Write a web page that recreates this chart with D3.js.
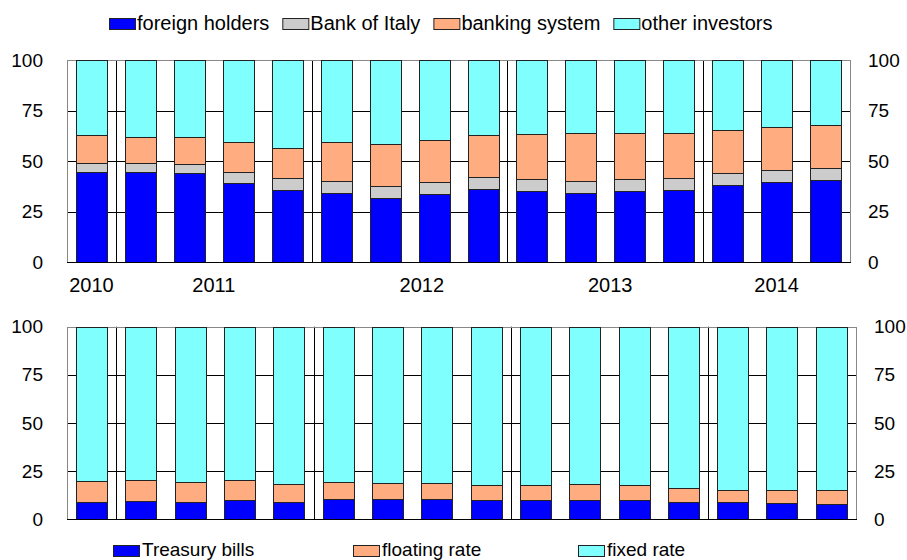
<!DOCTYPE html>
<html>
<head>
<meta charset="utf-8">
<script src="https://cdn.jsdelivr.net/npm/d3@7"></script>
<style>
  body { margin: 0; background: #fff; }
  svg { display: block; font-family: "Liberation Sans", Arial, sans-serif; }
</style>
</head>
<body>
<svg id="chart" width="907" height="560"></svg>
<script>
// quarters, 2010 Q4 .. 2014 Q3
const quarters = ["2010Q4", "2011Q1", "2011Q2", "2011Q3", "2011Q4", "2012Q1", "2012Q2", "2012Q3",
    "2012Q4", "2013Q1", "2013Q2", "2013Q3", "2013Q4", "2014Q1", "2014Q2", "2014Q3"];

// year labels, positioned in category units
const yearLabels = ["2010", "2011", "2012", "2013", "2014"];
const yearLabelAt = [0, 2.5, 6.75, 10.6, 14];
// year boundaries (index of first quarter of each year)
const yearStarts = [1, 5, 9, 13];

const yTicks = [0, 25, 50, 75, 100];

// top panel: holders (% shares)
const foreignHolders = [44.6, 44.7, 44.1, 39.3, 35.8, 34.5, 31.7, 33.7, 36.1, 35.3, 34.5, 35.1, 35.8, 38.1, 39.8, 40.6];
const bankOfItaly = [4.4, 4.5, 4.4, 5.3, 5.8, 5.9, 6.1, 6.1, 6.0, 6.0, 5.6, 6.0, 5.8, 6.0, 5.9, 5.9];
const bankingSystem = [13.9, 12.8, 13.5, 15.0, 14.8, 19.0, 20.6, 20.8, 20.8, 22.2, 24.1, 22.8, 22.3, 21.6, 21.1, 21.3];
const otherInvestors = [37.1, 38.0, 38.0, 40.4, 43.6, 40.6, 41.6, 39.4, 37.1, 36.5, 35.8, 36.1, 36.1, 34.3, 33.2, 32.2];

// bottom panel: instrument type (% shares)
const treasuryBills = [9.0, 9.5, 9.0, 9.7, 8.8, 10.4, 10.2, 10.4, 9.7, 9.7, 9.9, 9.7, 8.7, 8.7, 8.3, 7.8];
const floatingRate = [10.6, 11.0, 10.1, 10.4, 9.4, 8.7, 8.3, 8.5, 7.8, 7.8, 8.1, 7.8, 7.4, 6.2, 6.6, 7.5];
const fixedRate = [80.4, 79.5, 80.9, 79.9, 81.8, 80.9, 81.5, 81.1, 82.5, 82.5, 82.0, 82.5, 83.9, 85.1, 85.1, 84.7];

const BLUE = "#0000ff", GREY = "#cccccc", ORANGE = "#ffad80", CYAN = "#80ffff";

const svg = d3.select("#chart");

function panel(opts) {
    const x = d3.scaleBand()
        .domain(quarters)
        .range([opts.left, opts.right])
        .paddingInner(0.37)
        .paddingOuter(0.185);
    const y = d3.scaleLinear().domain([0, 100]).range([opts.bottom, opts.top]);
    const step = x.step();

    const g = svg.append("g");

    // horizontal grid
    g.selectAll(".hgrid")
        .data(yTicks.filter(t => t > 0 && t < 100))
        .enter().append("line")
        .attr("x1", opts.left).attr("x2", opts.right)
        .attr("y1", d => Math.round(y(d)) + 0.5).attr("y2", d => Math.round(y(d)) + 0.5)
        .attr("stroke", "#000").attr("stroke-width", 1);

    // vertical year separators
    g.selectAll(".vgrid")
        .data(yearStarts)
        .enter().append("line")
        .attr("x1", d => Math.round(x(quarters[d]) - step * 0.185) + 0.5)
        .attr("x2", d => Math.round(x(quarters[d]) - step * 0.185) + 0.5)
        .attr("y1", opts.top).attr("y2", opts.bottom)
        .attr("stroke", "#000").attr("stroke-width", 1);

    // frame
    g.append("rect")
        .attr("x", opts.left + 0.5).attr("y", Math.round(y(100)) + 0.5)
        .attr("width", opts.right - opts.left).attr("height", Math.round(y(0)) - Math.round(y(100)))
        .attr("fill", "none").attr("stroke", "#888");

    // stacked bars
    const rows = quarters.map((q, i) => {
        const r = { q: q };
        opts.series.forEach(s => r[s.key] = s.values[i]);
        return r;
    });
    const stack = d3.stack().keys(opts.series.map(s => s.key))(rows);

    stack.forEach((layer, li) => {
        g.selectAll(null)
            .data(layer)
            .enter().append("rect")
            .attr("x", d => Math.round(x(d.data.q)) + 0.5)
            .attr("width", Math.round(x.bandwidth()))
            .attr("y", d => Math.round(y(Math.min(d[1], 100))) + 0.5)
            .attr("height", d => Math.round(y(d[0])) - Math.round(y(Math.min(d[1], 100))))
            .attr("fill", opts.series[li].color)
            .attr("stroke", "#222").attr("stroke-width", 1);
    });

    // bottom axis line
    g.append("line")
        .attr("x1", opts.left).attr("x2", opts.right + 1)
        .attr("y1", Math.round(y(0)) + 0.5).attr("y2", Math.round(y(0)) + 0.5)
        .attr("stroke", "#000");

    // y labels both sides
    g.selectAll(".yl")
        .data(yTicks)
        .enter().append("text")
        .attr("x", opts.left - 24)
        .attr("y", d => y(d))
        .attr("dy", "0.35em")
        .attr("text-anchor", "end")
        .style("font-size", "19px")
        .text(d => d);

    g.selectAll(".yr")
        .data(yTicks)
        .enter().append("text")
        .attr("x", opts.right + 18)
        .attr("y", d => y(d))
        .attr("dy", "0.35em")
        .attr("text-anchor", "start")
        .style("font-size", "19px")
        .text(d => d);

    return { x: x, y: y };
}

const topPanel = panel({
    left: 67, right: 850, top: 60.3, bottom: 262.3,
    series: [
        { key: "foreign", values: foreignHolders, color: BLUE },
        { key: "boi", values: bankOfItaly, color: GREY },
        { key: "banks", values: bankingSystem, color: ORANGE },
        { key: "other", values: otherInvestors, color: CYAN }
    ]
});

panel({
    left: 67, right: 856, top: 326.7, bottom: 519,
    series: [
        { key: "bills", values: treasuryBills, color: BLUE },
        { key: "float", values: floatingRate, color: ORANGE },
        { key: "fixed", values: fixedRate, color: CYAN }
    ]
});

// year labels under top panel
svg.selectAll(".year")
    .data(yearLabels)
    .enter().append("text")
    .attr("x", (d, i) => topPanel.x(quarters[0]) + topPanel.x.bandwidth() / 2 + yearLabelAt[i] * topPanel.x.step())
    .attr("y", 292)
    .attr("text-anchor", "middle")
    .style("font-size", "20px")
    .text(d => d);

// top legend, laid out sequentially
const topLegend = [
    { label: "foreign holders", color: BLUE },
    { label: "Bank of Italy", color: GREY },
    { label: "banking system", color: ORANGE },
    { label: "other investors", color: CYAN }
];
let lx = 109;
topLegend.forEach(d => {
    svg.append("rect")
        .attr("x", lx + 0.5).attr("y", 18.5).attr("width", 26).attr("height", 11)
        .attr("fill", d.color).attr("stroke", "#222");
    const t = svg.append("text")
        .attr("x", lx + 28).attr("y", 30)
        .style("font-size", "20px")
        .text(d.label);
    lx += 28 + t.node().getComputedTextLength() + 13;
});

// bottom legend, fixed columns
const bottomLegend = [
    { label: "Treasury bills", color: BLUE, x: 113 },
    { label: "floating rate", color: ORANGE, x: 353 },
    { label: "fixed rate", color: CYAN, x: 578 }
];
bottomLegend.forEach(d => {
    svg.append("rect")
        .attr("x", d.x + 0.5).attr("y", 545.5).attr("width", 26).attr("height", 11)
        .attr("fill", d.color).attr("stroke", "#222");
    svg.append("text")
        .attr("x", d.x + 29).attr("y", 556)
        .style("font-size", "19px")
        .text(d.label);
});
</script>
</body>
</html>
